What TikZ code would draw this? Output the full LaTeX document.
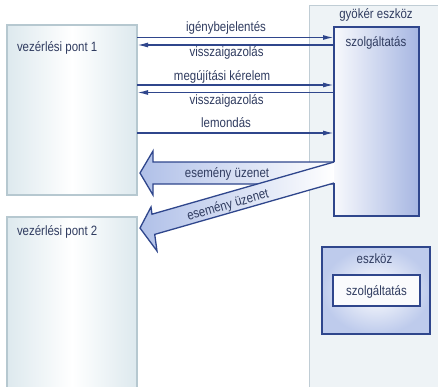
\documentclass[tikz,border=0pt]{standalone}
\usepackage{fontspec}
\setmainfont{Liberation Sans}[FakeStretch=0.85]
\usetikzlibrary{arrows.meta,calc}

\definecolor{navy}{RGB}{47,70,140}
\definecolor{ink}{RGB}{48,60,96}
\definecolor{paleedge}{RGB}{221,233,238}
\definecolor{paleline}{RGB}{182,200,208}
\definecolor{panel}{RGB}{238,243,246}
\definecolor{panelline}{RGB}{192,205,213}
\definecolor{svcblue}{RGB}{166,182,226}
\definecolor{devblue}{RGB}{190,203,236}
\definecolor{arrowblue}{RGB}{176,192,232}

\begin{document}
\begin{tikzpicture}[x=1pt,y=-1pt,
  every node/.style={font=\fontsize{13.5}{16}\selectfont, text=ink,
    inner sep=0pt, outer sep=0pt},
  ctrlbox/.style={draw=paleline, line width=1.1pt, left color=paleedge,
    right color=paleedge, middle color=white, minimum width=130pt,
    anchor=north west},
  rootbox/.style={draw=panelline, line width=1pt, fill=panel,
    anchor=north west},
  svcbox/.style={left color=white!92!svcblue, right color=svcblue,
    anchor=north west},
  devbox/.style={draw=navy, line width=1.3pt, inner color=white,
    outer color=devblue, anchor=north west},
  innerbox/.style={draw=navy, line width=1.3pt, fill=white!92!devblue,
    anchor=north west},
  msg/.style={draw=navy, line width=1.5pt, -{Latex[length=11pt,width=5pt]}},
  fatarrow/.style={draw=navy, line width=1.3pt, line join=miter},
  msglabel/.style={anchor=base}
]
\useasboundingbox (0,0) rectangle (438,386);
\clip (0,0) rectangle (438,386);
\fill[white] (0,0) rectangle (438,386);

% root device panel on the right
\node[rootbox, minimum width=140pt, minimum height=392pt] (root) at (309,5) {};
\node[anchor=base] (rootlabel) at (376,18.5) {gyökér eszköz};

% control points
\node[ctrlbox, minimum height=170pt] (cp1) at (7,25) {};
\node[anchor=base west] (cp1label) at (17,51.5) {vezérlési pont 1};
\node[ctrlbox, minimum height=176pt] (cp2) at (7,217) {};
\node[anchor=base west] (cp2label) at (17,235) {vezérlési pont 2};

% service of the root device (outline drawn after the event arrows)
\node[svcbox, minimum width=85pt, minimum height=189pt] (svc) at (334,27) {};

% points where the event arrows leave the service
\coordinate (ea) at (334,162);
\coordinate (eb) at (334,184);
\coordinate (ec) at (334,183);

% event message to control point 1
\path[left color=arrowblue, right color=white]
  (ea) -- (153,162) -- (153,151) -- (140,173) -- (153,195) -- (153,184) -- (eb) -- cycle;
\draw[fatarrow]
  (ea) -- (153,162) -- (153,151) -- (140,173) -- (153,195) -- (153,184) -- (eb);
\node[anchor=base] (ev1) at (227,177.5) {esemény üzenet};

% event message to control point 2
\path[left color=arrowblue, right color=white]
  (ea) -- (152.0,214.2) -- (151,207) -- (140,228) -- (157,251) -- (154.7,234.4) -- (ec) -- cycle;
\draw[fatarrow]
  (ea) -- (152.0,214.2) -- (151,207) -- (140,228) -- (157,251) -- (154.7,234.4) -- (ec);
\node[rotate=16] (ev2) at (228,205.5) {esemény üzenet};

% service outline, open where the arrows attach
\draw[fatarrow] (ea) -- (svc.north west) -- (svc.north east)
  -- (svc.south east) -- (svc.south west) -- (ec);
\node[anchor=base] (svclabel) at (376,46) {szolgáltatás};

% request / response messages
\coordinate (r1) at (0,37.5);
\coordinate (r2) at (0,45);
\coordinate (r3) at (0,85);
\coordinate (r4) at (0,92.5);
\coordinate (r5) at (0,133);

\draw[msg] (cp1.east |- r1) -- node[msglabel, pos=0.452, yshift=6pt] {igénybejelentés} (svc.west |- r1);
\draw[msg] (svc.west |- r2) -- node[msglabel, pos=0.545, yshift=-11.5pt] {visszaigazolás} (cp1.east |- r2);
\draw[msg] (cp1.east |- r3) -- node[msglabel, pos=0.432, yshift=4.5pt] {megújítási kérelem} (svc.west |- r3);
\draw[msg] (svc.west |- r4) -- node[msglabel, pos=0.545, yshift=-11.5pt] {visszaigazolás} (cp1.east |- r4);
\draw[msg] (cp1.east |- r5) -- node[msglabel, pos=0.452, yshift=6pt] {lemondás} (svc.west |- r5);

% embedded device
\node[devbox, minimum width=108pt, minimum height=87pt] (dev) at (322,247) {};
\node[anchor=base] (devlabel) at (374.5,263) {eszköz};
\node[innerbox, minimum width=87pt, minimum height=31pt] (devsvc) at (333,275) {};
\node[anchor=base] (devsvclabel) at (376.5,295.5) {szolgáltatás};
\end{tikzpicture}
\end{document}
